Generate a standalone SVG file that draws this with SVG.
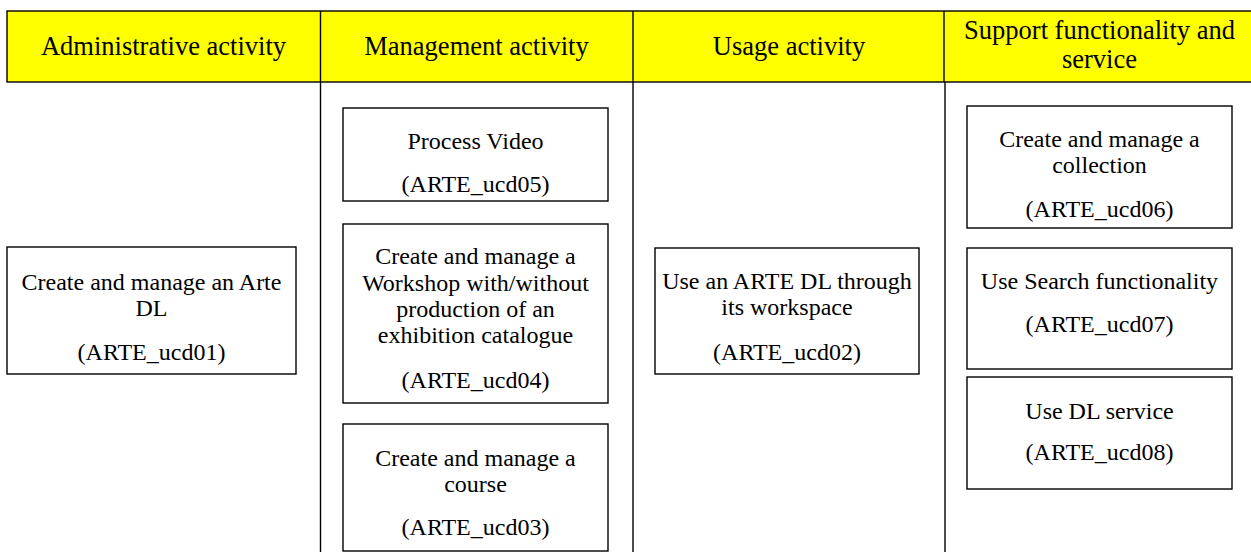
<svg xmlns="http://www.w3.org/2000/svg" width="1251" height="552" viewBox="0 0 1251 552">
<style>
.hdr{fill:#ffff00;stroke:#000;stroke-width:1.4}
.box{fill:#fff;stroke:#000;stroke-width:1.4}
.ln{stroke:#000;stroke-width:1.4;fill:none}
text{font-family:"Liberation Serif","Times New Roman",serif;fill:#000;text-anchor:middle}
.h{font-size:26.5px}
.t{font-size:24px}
</style>
<rect width="1251" height="552" fill="#fff"/>
<g id="header">
<rect class="hdr" x="7" y="11" width="1250" height="71"/>
<line class="ln" x1="320.5" y1="11" x2="320.5" y2="82"/>
<line class="ln" x1="633" y1="11" x2="633" y2="82"/>
<line class="ln" x1="944" y1="11" x2="944" y2="82"/>
<text class="h" x="163.5" y="55">Administrative activity</text>
<text class="h" x="476.5" y="55">Management activity</text>
<text class="h" x="789" y="55">Usage activity</text>
<text class="h" x="1099.5" y="39">Support functionality and</text>
<text class="h" x="1099.5" y="68">service</text>
</g>
<g id="lanes">
<line class="ln" x1="320.5" y1="82" x2="320.5" y2="552"/>
<line class="ln" x1="633" y1="82" x2="633" y2="552"/>
<line class="ln" x1="945" y1="82" x2="945" y2="552"/>
</g>
<g id="connectors"></g>
<g id="ucd01">
<rect class="box" x="7" y="247" width="289" height="127"/>
<text class="t" x="151.5" y="290">Create and manage an Arte</text>
<text class="t" x="151.5" y="316">DL</text>
<text class="t" x="151.5" y="360">(ARTE_ucd01)</text>
</g>
<g id="ucd05">
<rect class="box" x="343" y="108" width="265" height="93"/>
<text class="t" x="475.5" y="149">Process Video</text>
<text class="t" x="475.5" y="192">(ARTE_ucd05)</text>
</g>
<g id="ucd04">
<rect class="box" x="343" y="224" width="265" height="179"/>
<text class="t" x="475.5" y="264">Create and manage a</text>
<text class="t" x="475.5" y="291">Workshop with/without</text>
<text class="t" x="475.5" y="317">production of an</text>
<text class="t" x="475.5" y="343">exhibition catalogue</text>
<text class="t" x="475.5" y="388">(ARTE_ucd04)</text>
</g>
<g id="ucd03">
<rect class="box" x="343" y="424" width="265" height="127"/>
<text class="t" x="475.5" y="466">Create and manage a</text>
<text class="t" x="475.5" y="492">course</text>
<text class="t" x="475.5" y="535">(ARTE_ucd03)</text>
</g>
<g id="ucd02">
<rect class="box" x="655" y="248" width="264" height="126"/>
<text class="t" x="787" y="289">Use an ARTE DL through</text>
<text class="t" x="787" y="315">its workspace</text>
<text class="t" x="787" y="360">(ARTE_ucd02)</text>
</g>
<g id="ucd06">
<rect class="box" x="967" y="106" width="265" height="122"/>
<text class="t" x="1099.5" y="147">Create and manage a</text>
<text class="t" x="1099.5" y="173">collection</text>
<text class="t" x="1099.5" y="217">(ARTE_ucd06)</text>
</g>
<g id="ucd07">
<rect class="box" x="967" y="248" width="265" height="121"/>
<text class="t" x="1099.5" y="289">Use Search functionality</text>
<text class="t" x="1099.5" y="332">(ARTE_ucd07)</text>
</g>
<g id="ucd08">
<rect class="box" x="967" y="377" width="265" height="112"/>
<text class="t" x="1099.5" y="419">Use DL service</text>
<text class="t" x="1099.5" y="460">(ARTE_ucd08)</text>
</g>
</svg>
